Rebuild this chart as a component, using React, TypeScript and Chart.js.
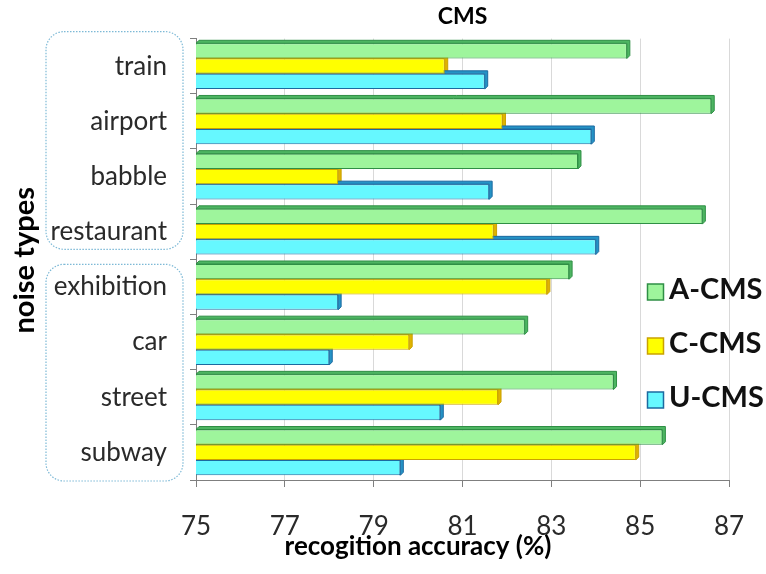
import React, { useEffect, useRef } from "react";
import { Chart, registerables } from "chart.js";

Chart.register(...registerables);

// ---- data ----
const noiseTypes = ["train", "airport", "babble", "restaurant", "exhibition", "car", "street", "subway"];
const aCms = [84.7, 86.6, 83.6, 86.4, 83.4, 82.4, 84.4, 85.5];
const cCms = [80.6, 81.9, 78.2, 81.7, 82.9, 79.8, 81.8, 84.9];
const uCms = [81.5, 83.9, 81.6, 84.0, 78.2, 78.0, 80.5, 79.6];
const seriesNames = ["A-CMS", "C-CMS", "U-CMS"];
const xTickValues = [75, 77, 79, 81, 83, 85, 87];
const chartTitle = "CMS";
const xAxisTitle = "recogition accuracy (%)";
const yAxisTitle = "noise types";
// first and last category of each dotted frame
const frameGroups = [
  ["train", "restaurant"],
  ["exhibition", "subway"],
];

// ---- styling ----
const W = 766;
const H = 574;
const FONT = "Lato, 'Open Sans', sans-serif";
const fills = ["#9ef59c", "#ffff00", "#66f8ff"];
const edges = ["#2f8f45", "#caa200", "#1b6aa0"];
const faces = ["#4db562", "#e0b300", "#2593c6"];
const DEPTH = 3;

const decorPlugin = {
  id: "decor",
  beforeDatasetsDraw(chart: any) {
    // extruded top and end faces behind each bar's front
    const ctx = chart.ctx;
    const area = chart.chartArea;
    ctx.save();
    ctx.beginPath();
    ctx.rect(area.left, area.top - DEPTH - 1, area.right - area.left + DEPTH + 2, area.bottom - area.top + DEPTH + 1);
    ctx.clip();
    chart.data.datasets.forEach((_ds: any, di: number) => {
      const meta = chart.getDatasetMeta(di);
      meta.data.forEach((bar: any) => {
        const { x, y, base, height } = bar.getProps(["x", "y", "base", "height"], true);
        const b = Math.max(base, area.left);
        const top = y - height / 2;
        const bottom = y + height / 2;
        ctx.fillStyle = faces[di];
        ctx.strokeStyle = edges[di];
        ctx.lineWidth = 1;
        ctx.beginPath();
        ctx.moveTo(b, top);
        ctx.lineTo(b + DEPTH, top - DEPTH);
        ctx.lineTo(x + DEPTH, top - DEPTH);
        ctx.lineTo(x + DEPTH, bottom - DEPTH);
        ctx.lineTo(x, bottom);
        ctx.lineTo(x, top);
        ctx.closePath();
        ctx.fill();
        ctx.stroke();
      });
    });
    ctx.restore();
  },
  afterDraw(chart: any) {
    const ctx = chart.ctx;
    const area = chart.chartArea;
    const yScale = chart.scales.y;
    const half = (yScale.getPixelForValue(1) - yScale.getPixelForValue(0)) / 2;
    ctx.save();

    // dotted frames around the label groups
    ctx.strokeStyle = "#7db9d6";
    ctx.lineWidth = 1.2;
    ctx.setLineDash([1.5, 1.5]);
    frameGroups.forEach(([first, last], gi) => {
      const i0 = noiseTypes.indexOf(first);
      const i1 = noiseTypes.indexOf(last);
      const top = yScale.getPixelForValue(i0) - half + (gi === 0 ? -7 : 5);
      const bottom = yScale.getPixelForValue(i1) + half + (gi === 0 ? -10 : 1);
      const left = area.left - 150;
      const right = area.left - 13;
      ctx.beginPath();
      ctx.roundRect(left, top, right - left, bottom - top, 18);
      ctx.stroke();
    });
    ctx.setLineDash([]);

    // chart title
    ctx.fillStyle = "#000";
    ctx.textAlign = "center";
    ctx.textBaseline = "alphabetic";
    ctx.font = `bold 23px ${FONT}`;
    ctx.fillText(chartTitle, (area.left + area.right) / 2, 24);

    // x axis title
    ctx.font = `bold 26px ${FONT}`;
    ctx.fillText(xAxisTitle, area.left + 222, 555);

    // y axis title
    ctx.save();
    ctx.translate(34, (area.top + area.bottom) / 2 + 1);
    ctx.rotate(-Math.PI / 2);
    ctx.font = `bold 29px ${FONT}`;
    ctx.fillText(yAxisTitle, 0, 0);
    ctx.restore();

    // legend
    ctx.textAlign = "left";
    ctx.font = `bold 29px ${FONT}`;
    seriesNames.forEach((name, i) => {
      const cy = 288 + i * 54;
      ctx.fillStyle = fills[i];
      ctx.strokeStyle = edges[i];
      ctx.lineWidth = 1.5;
      ctx.fillRect(647.5, cy - 4, 16, 16);
      ctx.strokeRect(647.5, cy - 4, 16, 16);
      ctx.fillStyle = "#111";
      ctx.fillText(name, 669, cy + 10.5);
    });
    ctx.restore();
  },
};

export default function App() {
  const canvasRef = useRef<HTMLCanvasElement | null>(null);

  useEffect(() => {
    if (!canvasRef.current) return;
    const series = [aCms, cCms, uCms];
    const chart = new Chart(canvasRef.current, {
      type: "bar",
      data: {
        labels: noiseTypes,
        datasets: series.map((values, i) => ({
          label: seriesNames[i],
          data: values,
          backgroundColor: fills[i],
          borderColor: edges[i],
          borderWidth: 1,
          borderSkipped: "start",
          categoryPercentage: 0.83,
          barPercentage: 1,
        })),
      },
      options: {
        indexAxis: "y",
        responsive: false,
        animation: false,
        events: [],
        layout: { padding: { top: 35, right: 37, bottom: 0, left: 0 } },
        plugins: {
          legend: { display: false },
          title: { display: false },
          tooltip: { enabled: false },
        },
        scales: {
          x: {
            type: "linear",
            min: 75,
            max: 87,
            afterBuildTicks: (s: any) => {
              s.ticks = xTickValues.map((v) => ({ value: v }));
            },
            afterFit: (s: any) => {
              s.height = 94;
              s.paddingLeft = 0;
              s.paddingRight = 0;
            },
            ticks: {
              font: { family: FONT, size: 26 },
              color: "#2a2a2a",
              padding: 24,
              maxRotation: 0,
            },
            grid: { color: "#d9d9d9", tickColor: "#7f7f7f", tickLength: 7 },
            border: { color: "#7f7f7f" },
          },
          y: {
            type: "category",
            afterFit: (s: any) => {
              s.width = 196;
            },
            ticks: {
              font: { family: FONT, size: 26 },
              color: "#2a2a2a",
              padding: 23,
            },
            grid: { drawOnChartArea: false, tickColor: "#7f7f7f", tickLength: 6 },
            border: { color: "#7f7f7f" },
          },
        },
      },
      plugins: [decorPlugin],
    });
    return () => chart.destroy();
  }, []);

  return (
    <div style={{ position: "absolute", left: 0, top: 0, width: W, height: H, background: "#fff" }}>
      <canvas ref={canvasRef} width={W} height={H} style={{ display: "block" }} />
    </div>
  );
}
